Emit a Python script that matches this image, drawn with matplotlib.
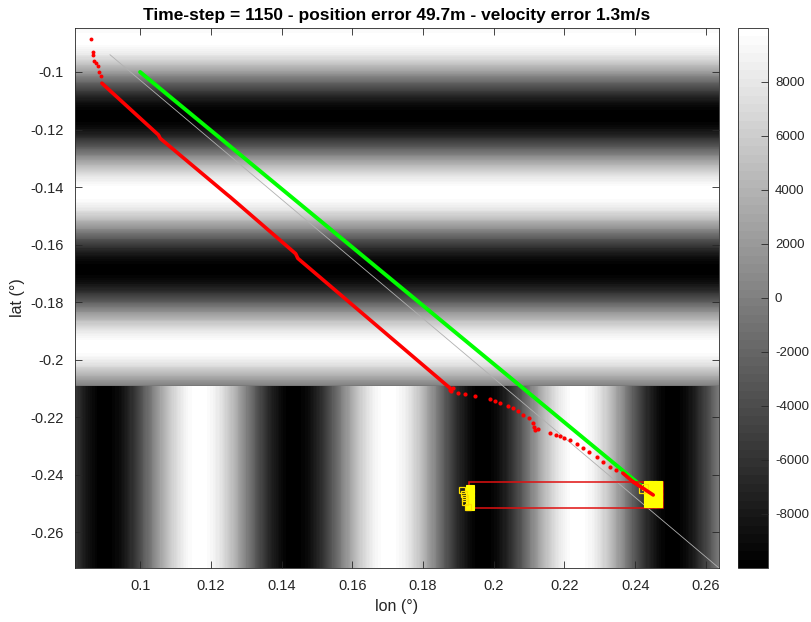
import numpy as np
import matplotlib
matplotlib.use("Agg")
import matplotlib.pyplot as plt
from matplotlib.patches import Rectangle

plt.rcParams['font.family'] = ['Liberation Sans', 'DejaVu Sans']

# ---------------- data ----------------
title = "Time-step = 1150 - position error 49.7m - velocity error 1.3m/s"
x_ticks = [0.1, 0.12, 0.14, 0.16, 0.18, 0.2, 0.22, 0.24, 0.26]
y_ticks = [-0.26, -0.24, -0.22, -0.2, -0.18, -0.16, -0.14, -0.12, -0.1]
cbar_ticks = [-8000, -6000, -4000, -2000, 0, 2000, 4000, 6000, 8000]
xlim = (0.0816, 0.2637)
ylim = (-0.2725, -0.0847)

# background map: stripe parameters
map_amp = 10000
map_period = 0.0535
lat_white = -0.0885      # a white band centre in the upper (lat-striped) part
lon_black = 0.0901       # a black band centre in the lower (lon-striped) part
lat_split = -0.2092      # boundary between the two parts

# true track (green)
true_lon = [0.1000, 0.2418]
true_lat = [-0.1000, -0.2440]

# reference diagonal (thin grey)
ref_lon = [0.0915, 0.2637]
ref_lat = [-0.0940, -0.2725]

# estimated track (red): sparse start, dense part, sparse part, dense end
est_a_lon = [0.0861, 0.0866, 0.0868, 0.0871, 0.0876, 0.0882, 0.0884, 0.0890]
est_a_lat = [-0.0885, -0.0929, -0.0941, -0.0961, -0.0970, -0.0979, -0.1001, -0.1014]
est_b_lon = [0.0892, 0.1052, 0.1057, 0.1245, 0.1255, 0.1440, 0.1446, 0.1877]
est_b_lat = [-0.1039, -0.1219, -0.1231, -0.1425, -0.1435, -0.1632, -0.1648, -0.2100]
est_c_lon = [0.1876, 0.1885, 0.1880, 0.1899, 0.1920, 0.1947, 0.1989, 0.2005, 0.2018,
             0.2040, 0.2054, 0.2070, 0.2083, 0.2100, 0.2111, 0.2115, 0.2117, 0.2125,
             0.2159, 0.2175, 0.2187, 0.2200, 0.2216, 0.2235, 0.2252, 0.2270, 0.2292,
             0.2310, 0.2329, 0.2345]
est_c_lat = [-0.2106, -0.2100, -0.2110, -0.2117, -0.2120, -0.2127, -0.2137, -0.2143, -0.2151,
             -0.2162, -0.2169, -0.2180, -0.2193, -0.2205, -0.2220, -0.2235, -0.2245, -0.2240,
             -0.2256, -0.2262, -0.2266, -0.2272, -0.2280, -0.2295, -0.2308, -0.2322, -0.2339,
             -0.2355, -0.2374, -0.2383]
est_d_lon = [0.2365, 0.2394, 0.2451]
est_d_lat = [-0.2395, -0.2425, -0.2471]

# detection markers (yellow squares)
det_open_lon = [0.1909, 0.1915, 0.1919, 0.1920, 0.1927, 0.2420, 0.2427]
det_open_lat = [-0.2455, -0.2468, -0.2480, -0.2497, -0.2513, -0.2452, -0.2445]
det_fill_lon = [0.1934, 0.1934, 0.1934, 0.1934, 0.1934,
                0.2436, 0.2450, 0.2465, 0.2436, 0.2450, 0.2465,
                0.2436, 0.2450, 0.2465, 0.2436, 0.2450, 0.2465]
det_fill_lat = [-0.2450, -0.2465, -0.2480, -0.2495, -0.2510,
                -0.2438, -0.2438, -0.2438, -0.2458, -0.2458, -0.2458,
                -0.2478, -0.2478, -0.2478, -0.2500, -0.2500, -0.2500]

# search box (red rectangle)
box_lon = [0.1930, 0.2478]
box_lat = [-0.2517, -0.2426]

# ---------------- figure ----------------
fig = plt.figure(figsize=(8.12, 6.22), dpi=100)
ax = fig.add_axes([75 / 812, 54 / 622, 644 / 812, 540 / 622])
cax = fig.add_axes([738 / 812, 54 / 622, 30 / 812, 540 / 622])

lon_grid = np.linspace(xlim[0], xlim[1], 600)
lat_grid = np.linspace(ylim[0], ylim[1], 600)
LON, LAT = np.meshgrid(lon_grid, lat_grid)
top = map_amp * np.cos(2 * np.pi * (LAT - lat_white) / map_period)
bot = -map_amp * np.cos(2 * np.pi * (LON - lon_black) / map_period)
Z = np.where(LAT > lat_split, top, bot)

cmap = plt.get_cmap('gray', 64)
im = ax.pcolormesh(LON, LAT, Z, cmap=cmap, vmin=-10000, vmax=10000,
                   shading='auto', rasterized=True)

ax.plot(ref_lon, ref_lat, color='#b0b0b0', lw=0.6, zorder=3)
ax.plot(true_lon, true_lat, color='#00ff00', lw=2.8, solid_capstyle='round', zorder=4)

ax.plot(est_a_lon, est_a_lat, 'o', color='red', ms=2.8, mec='none', zorder=5)
ax.plot(est_b_lon, est_b_lat, '-', color='red', lw=2.6, solid_capstyle='round',
        solid_joinstyle='round', zorder=5)
ax.plot(est_c_lon, est_c_lat, 'o', color='red', ms=3.0, mec='none', zorder=5)
ax.plot(est_d_lon, est_d_lat, '-', color='red', lw=2.6, solid_capstyle='round', zorder=5)

ax.add_patch(Rectangle((box_lon[0], box_lat[0]), box_lon[1] - box_lon[0],
                       box_lat[1] - box_lat[0], fill=False, edgecolor='#e01010',
                       lw=1.1, zorder=6))

ax.plot(det_fill_lon, det_fill_lat, 's', ms=6, mfc='yellow', mec='yellow',
        mew=0.8, zorder=7)
ax.plot(det_open_lon, det_open_lat, 's', ms=5, mfc='none', mec='#ffe000',
        mew=0.9, zorder=7)
ax.plot(est_d_lon[-2:], est_d_lat[-2:], '-', color='red', lw=2.6,
        solid_capstyle='round', zorder=8)

ax.set_xlim(*xlim)
ax.set_ylim(*ylim)
ax.set_xticks(x_ticks)
ax.set_xticklabels([f"{v:g}" for v in x_ticks])
ax.set_yticks(y_ticks)
ax.set_yticklabels([f"{v:g}" for v in y_ticks])
ax.tick_params(direction='in', length=5, width=0.6, top=True, right=True,
               labelsize=10.5, colors='#262626', pad=8)
for s in ax.spines.values():
    s.set_color('#262626')
    s.set_linewidth(0.6)
ax.set_xlabel('lon (°)', fontsize=11.5, color='#262626', labelpad=4)
ax.set_ylabel('lat (°)', fontsize=11.5, color='#262626', labelpad=4)
ax.set_title(title, fontsize=12.5, fontweight='bold', color='black', pad=6)

cb = fig.colorbar(im, cax=cax, ticks=cbar_ticks)
cb.ax.tick_params(direction='in', length=5, width=0.6, labelsize=9.5,
                  colors='#262626', pad=5)
cb.ax.set_yticklabels([str(v) for v in cbar_ticks])
cb.outline.set_edgecolor('#262626')
cb.outline.set_linewidth(0.6)

fig.savefig('out.png', dpi=100)
